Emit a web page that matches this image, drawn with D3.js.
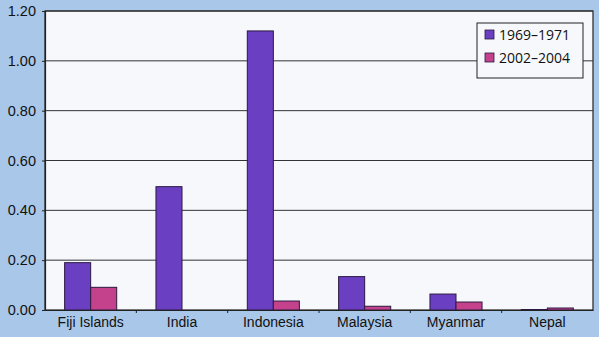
<!DOCTYPE html>
<html>
<head>
<meta charset="utf-8">
<script src="https://cdn.jsdelivr.net/npm/d3@7"></script>
<style>
  body { margin: 0; background: #a9c7e8; }
  svg { display: block; font-family: "Open Sans", sans-serif; }
</style>
</head>
<body>
<div id="chart"></div>
<script>
const countries = ['Fiji Islands', 'India', 'Indonesia', 'Malaysia', 'Myanmar', 'Nepal'];
const periods = ['1969\u20131971', '2002\u20132004'];
const early = [0.19, 0.495, 1.12, 0.134, 0.064, 0.002];
const late = [0.091, 0, 0.036, 0.015, 0.032, 0.008];
const yTicks = [0, 0.2, 0.4, 0.6, 0.8, 1.0, 1.2];

const W = 599, H = 337;
const MARGIN = {left: 45, right: 6, top: 11, bottom: 27};
const WIDTH = W - MARGIN.left - MARGIN.right;
const HEIGHT = H - MARGIN.top - MARGIN.bottom;
const colors = ['#6b3fc2', '#c4428c'];

const svg = d3.select('#chart').append('svg')
    .attr('width', W)
    .attr('height', H);

svg.append('rect')
    .attr('width', W).attr('height', H)
    .attr('fill', '#a9c7e8');

const g = svg.append('g')
    .attr('transform', `translate(${MARGIN.left},${MARGIN.top})`);

// plot background
g.append('rect')
    .attr('width', WIDTH).attr('height', HEIGHT)
    .attr('fill', '#f6f8fc')
    .attr('stroke', '#222')
    .attr('stroke-width', 1.2);

const x = d3.scaleBand()
    .domain(countries)
    .range([0, WIDTH]);

const x1 = d3.scaleBand()
    .domain([0, 1])
    .range([x.bandwidth() * 0.215, x.bandwidth() * 0.785]);

const y = d3.scaleLinear()
    .domain([0, 1.2])
    .range([HEIGHT, 0]);

// grid
g.selectAll('.grid')
    .data(yTicks.slice(1))
    .enter().append('line')
    .attr('class', 'grid')
    .attr('x1', 0).attr('x2', WIDTH)
    .attr('y1', d => y(d)).attr('y2', d => y(d))
    .attr('stroke', '#333')
    .attr('stroke-width', 1);

// bars
const series = [early, late];
series.forEach((vals, s) => {
    g.selectAll('.bar' + s)
        .data(vals)
        .enter().append('rect')
        .attr('class', 'bar' + s)
        .attr('x', (d, i) => x(countries[i]) + x1(s))
        .attr('y', d => y(d))
        .attr('width', x1.bandwidth())
        .attr('height', d => HEIGHT - y(d))
        .attr('fill', colors[s])
        .attr('stroke', d => d > 0 ? '#2a1a40' : 'none')
        .attr('stroke-width', 1);
});

// y axis
const yAxis = g.append('g')
    .call(d3.axisLeft(y).tickValues(yTicks).tickFormat(d3.format('.2f')).tickSize(3).tickPadding(6));
yAxis.select('.domain').attr('stroke', '#222').attr('stroke-width', 1.2);
yAxis.selectAll('text').attr('font-size', '14.5px').attr('fill', '#111');
yAxis.selectAll('line').attr('stroke', '#222');

// x axis
const xAxis = g.append('g')
    .attr('transform', `translate(0,${HEIGHT})`)
    .call(d3.axisBottom(x).tickSize(0).tickPadding(7));
xAxis.select('.domain').attr('stroke', '#222').attr('stroke-width', 1.2);
xAxis.selectAll('text').attr('font-size', '14px').attr('fill', '#111');

g.append('g')
    .selectAll('line')
    .data(countries.slice(1))
    .enter().append('line')
    .attr('x1', d => x(d)).attr('x2', d => x(d))
    .attr('y1', HEIGHT).attr('y2', HEIGHT + 3)
    .attr('stroke', '#222');

// legend
const legend = svg.append('g')
    .attr('transform', 'translate(477,23)');
legend.append('rect')
    .attr('width', 106).attr('height', 55)
    .attr('fill', '#f6f8fc')
    .attr('stroke', '#222')
    .attr('stroke-width', 1);
periods.forEach((p, i) => {
    const row = legend.append('g')
        .attr('transform', `translate(8,${7 + i * 23})`);
    row.append('rect')
        .attr('width', 9).attr('height', 9)
        .attr('fill', colors[i])
        .attr('stroke', '#2a1a40')
        .attr('stroke-width', 0.8);
    row.append('text')
        .attr('x', 14).attr('y', 9.5)
        .attr('font-size', '14px')
        .attr('fill', '#111')
        .text(p);
});
</script>
</body>
</html>
